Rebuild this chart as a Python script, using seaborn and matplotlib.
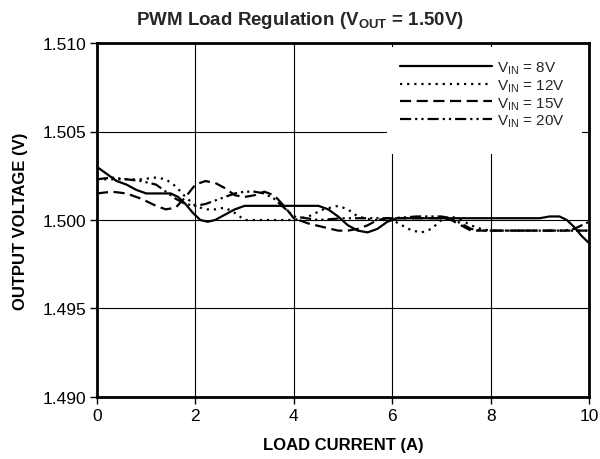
import matplotlib
matplotlib.use("Agg")
import matplotlib.pyplot as plt
from matplotlib.patches import Rectangle
import seaborn as sns
import pandas as pd

# ---- data ----
x8 = [0, 0.2, 0.4, 0.6, 0.8, 1.0, 1.2, 1.5, 1.65, 1.8, 1.95, 2.1, 2.25, 2.4, 2.6, 2.8, 3.0, 3.3,
      4.0, 4.5, 4.7, 4.9, 5.1, 5.3, 5.5, 5.7, 5.9, 6.1, 7.0, 8.0, 9.0, 9.2, 9.4, 9.55, 9.7, 9.85, 10]
y8 = [1.5030, 1.5026, 1.5022, 1.5020, 1.5017, 1.5015, 1.5015, 1.5015, 1.5013, 1.5009, 1.5004,
      1.5000, 1.4999, 1.5000, 1.5003, 1.5006, 1.5008, 1.5008, 1.5008, 1.5008, 1.5006, 1.5002,
      1.4997, 1.4994, 1.4993, 1.4995, 1.4999, 1.5001, 1.5001, 1.5001, 1.5001, 1.5002, 1.5002,
      1.5000, 1.4996, 1.4991, 1.4987]

x12 = [0, 0.3, 0.6, 0.9, 1.2, 1.4, 1.6, 1.8, 2.0, 2.2, 2.4, 2.6, 2.8, 3.0, 3.5, 4.0, 4.3, 4.6,
       4.9, 5.1, 5.3, 5.6, 6.0, 6.2, 6.4, 6.6, 6.8, 7.0, 7.2, 7.4, 7.6, 7.8, 8.0, 9.0, 10]
y12 = [1.5023, 1.5023, 1.5023, 1.5023, 1.5024, 1.5023, 1.5019, 1.5013, 1.5008, 1.5006, 1.5006,
       1.5007, 1.5004, 1.5000, 1.5000, 1.5000, 1.5002, 1.5006, 1.5008, 1.5006, 1.5002, 1.5000,
       1.5000, 1.4997, 1.4994, 1.4993, 1.4995, 1.5000, 1.5002, 1.5000, 1.4997, 1.4995, 1.4994,
       1.4994, 1.4994]

x15 = [0, 0.3, 0.6, 0.9, 1.2, 1.4, 1.6, 1.8, 2.0, 2.2, 2.4, 2.6, 2.8, 3.0, 3.2, 3.4, 3.6, 3.8,
       4.0, 4.3, 4.6, 4.9, 5.1, 5.3, 5.5, 5.7, 5.9, 6.2, 7.0, 7.2, 7.4, 7.6, 7.8, 8.5, 10]
y15 = [1.5015, 1.5016, 1.5015, 1.5012, 1.5008, 1.5006, 1.5007, 1.5013, 1.5020, 1.5022, 1.5021,
       1.5018, 1.5014, 1.5013, 1.5014, 1.5016, 1.5014, 1.5008, 1.5001, 1.4998, 1.4996, 1.4994,
       1.4994, 1.4995, 1.4997, 1.5000, 1.5001, 1.5001, 1.5001, 1.5000, 1.4997, 1.4994, 1.4994,
       1.4994, 1.4994]

x20 = [0, 0.3, 0.6, 0.9, 1.2, 1.4, 1.6, 1.8, 2.0, 2.2, 2.4, 2.6, 2.8, 3.0, 3.2, 3.4, 3.6, 3.8,
       4.0, 4.5, 5.0, 5.5, 6.0, 6.5, 7.0, 7.2, 7.4, 7.6, 7.8, 8.5, 9.0, 9.5, 9.7, 9.85, 10]
y20 = [1.5023, 1.5024, 1.5023, 1.5022, 1.5020, 1.5016, 1.5012, 1.5009, 1.5008, 1.5009, 1.5011,
       1.5013, 1.5015, 1.5016, 1.5016, 1.5015, 1.5012, 1.5007, 1.5002, 1.5000, 1.5001, 1.5001,
       1.5001, 1.5002, 1.5002, 1.5001, 1.4998, 1.4995, 1.4994, 1.4994, 1.4994, 1.4994, 1.4995,
       1.4997, 1.4999]

labels = [r"V$_{\mathrm{IN}}$ = 8V", r"V$_{\mathrm{IN}}$ = 12V",
          r"V$_{\mathrm{IN}}$ = 15V", r"V$_{\mathrm{IN}}$ = 20V"]
x_ticks = [0, 2, 4, 6, 8, 10]
y_ticks = [1.490, 1.495, 1.500, 1.505, 1.510]

# ---- style ----
sns.set_theme(style="white")
plt.rcParams["font.family"] = ["Liberation Sans", "DejaVu Sans"]
plt.rcParams["mathtext.fontset"] = "custom"
plt.rcParams["mathtext.rm"] = "Liberation Sans"
plt.rcParams["mathtext.bf"] = "Liberation Sans:bold"

W, H = 600, 460
fig = plt.figure(figsize=(6, 4.6), dpi=100)
ax = fig.add_axes([97 / W, 1 - 398 / H, (589 - 97) / W, (398 - 44) / H])

styles = [
    "-",
    (0, (1, 2.2)),
    (0, (5, 2.5)),
    (0, (5, 1.8, 1, 1.8, 1, 1.8)),
]
series = [(x8, y8), (x12, y12), (x15, y15), (x20, y20)]
for (xs, ys), lab, ls in zip(series, labels, styles):
    df = pd.DataFrame({"x": xs, "y": ys})
    sns.lineplot(data=df, x="x", y="y", ax=ax, color="black", linewidth=1.6,
                 linestyle=ls, label=lab, zorder=3)

ax.set_xlim(0, 10)
ax.set_ylim(1.490, 1.510)
ax.set_xticks(x_ticks)
ax.set_yticks(y_ticks)
ax.set_xticklabels([str(v) for v in x_ticks])
ax.set_yticklabels([f"{v:.3f}" for v in y_ticks])
ax.grid(True, color="black", linewidth=0.8, zorder=1)
ax.set_axisbelow(True)
for s in ax.spines.values():
    s.set_color("black")
    s.set_linewidth(2)
    s.set_zorder(6)
ax.tick_params(axis="both", direction="out", length=5, width=1, color="black",
               labelsize=12.5, labelcolor="black", pad=3, bottom=True, left=True)

ax.set_xlabel("LOAD CURRENT (A)", fontsize=12, fontweight="bold", color="black", labelpad=10)
ax.set_ylabel("OUTPUT VOLTAGE (V)", fontsize=12, fontweight="bold", color="black", labelpad=10)

fig.suptitle(r"PWM Load Regulation (V$_{\mathbf{OUT}}$ = 1.50V)", x=0.5, y=1 - 10 / H,
             va="top", fontsize=13.5, fontweight="bold")

# white legend area covering the grid
x0 = (387 - 97) / 492
x1 = (582 - 97) / 492
y0 = (398 - 155) / 354
y1 = (398 - 48) / 354
ax.add_patch(Rectangle((x0, y0), x1 - x0, y1 - y0, transform=ax.transAxes,
                       facecolor="white", edgecolor="none", zorder=2))

leg = ax.legend(loc="upper left", bbox_to_anchor=((400 - 97) / 492, (398 - 60) / 354),
                frameon=False, fontsize=11, handlelength=6.0, labelspacing=0.08,
                handletextpad=0.35, borderpad=0, borderaxespad=0)
leg.set_zorder(5)

fig.savefig("out.png", dpi=100)
